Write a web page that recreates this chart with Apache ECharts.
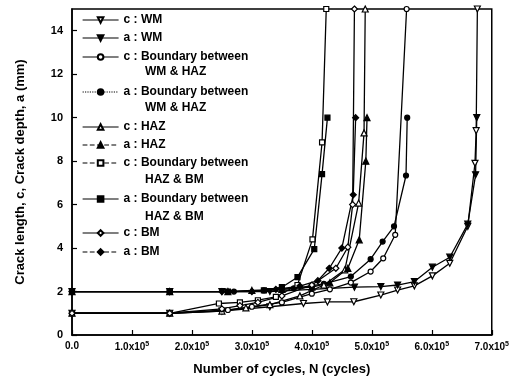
<!DOCTYPE html>
<html>
<head>
<meta charset="utf-8">
<script src="https://cdn.jsdelivr.net/npm/echarts@6/dist/echarts.min.js"></script>
<style>html,body{margin:0;padding:0;background:#fff;}#c{width:512px;height:385px;}</style>
</head>
<body>
<div id="c"></div>
<script>
// ---- data: [N (cycles), crack size (mm)] ----
const cWM  = [[0,1.0],[163000,1.0],[250000,1.1],[330000,1.3],[386000,1.45],[426000,1.52],[470000,1.53],[515000,1.84],[543000,2.07],[571000,2.26],[601000,2.72],[630000,3.3],[660000,5.0],[672000,7.9],[674000,9.4],[676000,15]];
const aWM  = [[0,2.0],[163000,2.0],[250000,2.0],[330000,2.0],[400000,2.1],[471000,2.2],[515000,2.23],[543000,2.3],[571000,2.46],[601000,3.12],[630000,3.58],[660000,5.1],[673000,7.37],[675000,10]];
const cWH  = [[0,1.0],[163000,1.0],[260000,1.15],[300000,1.3],[350000,1.5],[400000,1.9],[430000,2.1],[465000,2.41],[498000,2.92],[519000,3.53],[539000,4.61],[558000,15]];
const aWH  = [[0,2.0],[163000,2.0],[270000,2.0],[320000,2.05],[370000,2.15],[420000,2.35],[465000,2.69],[498000,3.49],[518000,4.3],[537000,5.0],[557000,7.34],[559000,10]];
const cHAZ = [[0,1.0],[163000,1.0],[250000,1.1],[290000,1.25],[330000,1.4],[380000,1.8],[420000,2.3],[455000,3.0],[478000,6.07],[487000,9.3],[489000,15]];
const aHAZ = [[0,2.0],[163000,2.0],[260000,2.0],[300000,2.05],[350000,2.1],[400000,2.2],[430000,2.4],[460000,3.07],[479000,4.38],[490000,8.0],[492000,10]];
const cHB  = [[0,1.0],[163000,1.0],[245000,1.45],[280000,1.5],[310000,1.6],[340000,1.75],[376000,2.3],[401000,4.4],[417000,8.86],[424000,15]];
const aHB  = [[0,2.0],[163000,2.0],[260000,2.0],[320000,2.05],[350000,2.2],[376000,2.66],[404000,3.95],[417000,7.4],[426000,10]];
const cBM  = [[0,1.0],[163000,1.0],[250000,1.2],[280000,1.35],[310000,1.5],[350000,1.8],[400000,2.3],[440000,3.07],[460000,4.04],[468000,6.0],[471000,15]];
const aBM  = [[0,2.0],[163000,2.0],[250000,2.0],[300000,2.0],[340000,2.1],[380000,2.25],[410000,2.5],[429000,3.07],[450000,4.0],[469000,6.45],[473000,10]];

const names = [
  'c : WM', 'a : WM',
  'c : Boundary between', 'a : Boundary between ',
  'c : HAZ', 'a : HAZ',
  'c : Boundary between  ', 'a : Boundary between   ',
  'c : BM', 'a : BM'
];
const contTexts = ['WM & HAZ', 'WM & HAZ', 'HAZ & BM', 'HAZ & BM'];

const seriesData = [cWM, aWM, cWH, aWH, cHAZ, aHAZ, cHB, aHB, cBM, aBM];
const symbols = ['triangle','triangle','circle','circle','triangle','triangle','rect','rect','diamond','diamond'];
const rotates = [180,180,0,0,0,0,0,0,0,0];
const filled  = [false,true,false,true,false,true,false,true,false,true];
const legendDash = ['solid','solid','solid','dotted','solid','dashed','dashed','solid','solid','dashed'];
const legendRows = [20,38,57,92,127,145,163,199,233,252];
const contRows = [73,109,181,218];

const FONT = '"Liberation Sans", Arial, sans-serif';

const symSize = s => s === 'circle' ? 5 : (s === 'rect' ? 5 : 6);

const series = seriesData.map((d, i) => ({
  name: names[i],
  type: 'line',
  data: d,
  symbol: symbols[i],
  symbolRotate: rotates[i],
  symbolSize: symSize(symbols[i]),
  showAllSymbol: true,
  lineStyle: {color: '#000', width: 1.3},
  itemStyle: {color: filled[i] ? '#000' : '#fff', borderColor: '#000', borderWidth: 1.2},
  emphasis: {disabled: true},
  animation: false,
  z: 3
}));

const legends = names.map((n, i) => ({
  data: [n],
  left: 82,
  top: legendRows[i] - 7,
  padding: 0,
  itemWidth: 36,
  itemHeight: 7,
  selectedMode: false,
  lineStyle: {type: legendDash[i], width: 1.2},
  textStyle: {fontFamily: FONT, fontWeight: 'bold', fontSize: 12, color: '#000', lineHeight: 14}
}));

const chart = echarts.init(document.getElementById('c'), null, {renderer: 'canvas'});
chart.setOption({
  animation: false,
  backgroundColor: '#fff',
  grid: {left: 72, right: 19, top: 9, bottom: 50, show: true, borderColor: '#000', borderWidth: 1.5, backgroundColor: 'transparent'},
  legend: legends,
  graphic: contTexts.map((t, i) => ({
    type: 'text', left: 145, top: contRows[i] - 7,
    style: {text: t, font: 'bold 12px ' + FONT, fill: '#000'}
  })),
  xAxis: {
    type: 'value', min: 0, max: 700000, interval: 100000,
    name: 'Number of cycles, N (cycles)', nameLocation: 'middle', nameGap: 28,
    nameTextStyle: {fontFamily: FONT, fontWeight: 'bold', fontSize: 13, color: '#000'},
    axisLine: {lineStyle: {color: '#000', width: 1.5}},
    axisTick: {inside: true, length: 5, lineStyle: {color: '#000', width: 1.2}},
    splitLine: {show: false},
    axisLabel: {
      margin: 6, color: '#000',
      formatter: v => v === 0 ? '{b|0.0}' : '{b|' + (v/100000).toFixed(1) + 'x10}{s|5}',
      rich: {
        b: {fontFamily: FONT, fontWeight: 'bold', fontSize: 10, color: '#000'},
        s: {fontFamily: FONT, fontWeight: 'bold', fontSize: 7, color: '#000', padding: [0,0,6,0]}
      }
    }
  },
  yAxis: {
    type: 'value', min: 0, max: 15, interval: 2,
    name: 'Crack length, c, Crack depth, a (mm)', nameLocation: 'middle', nameGap: 45,
    nameTextStyle: {fontFamily: FONT, fontWeight: 'bold', fontSize: 13, color: '#000'},
    axisLine: {lineStyle: {color: '#000', width: 1.5}},
    axisTick: {inside: true, length: 5, lineStyle: {color: '#000', width: 1.2}},
    splitLine: {show: false},
    axisLabel: {margin: 9, color: '#000', fontFamily: FONT, fontWeight: 'bold', fontSize: 11, showMaxLabel: false}
  },
  series: series
});
</script>
</body>
</html>
